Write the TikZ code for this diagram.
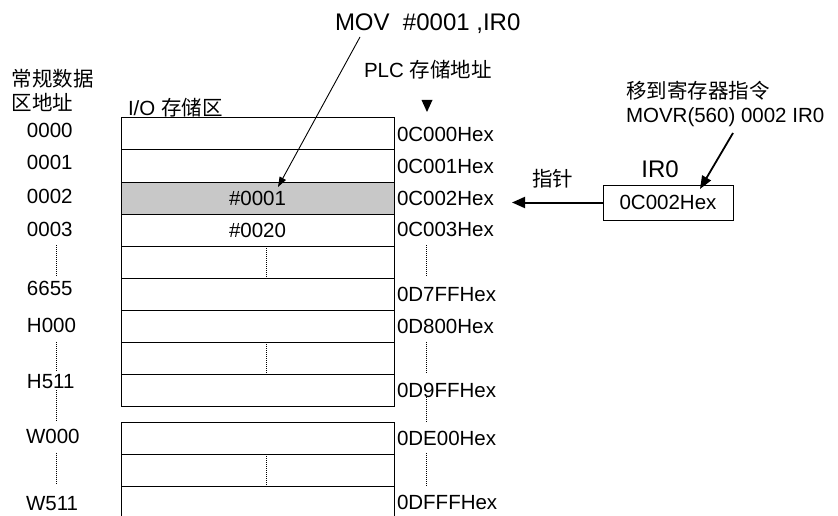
\documentclass[tikz,border=0pt]{standalone}
\usepackage{fontspec}
\setmainfont{Liberation Sans}
\newfontfamily\cjk{Noto Sans CJK SC}
\usetikzlibrary{arrows.meta}
\definecolor{cellgray}{RGB}{200,200,200}
\begin{document}
\begin{tikzpicture}[x=1pt,y=-1pt,
  txt/.style={font=\fontsize{20.5}{24}\selectfont, inner sep=0pt, outer sep=0pt},
  bigtxt/.style={font=\fontsize{24}{28}\selectfont, inner sep=0pt, outer sep=0pt},
  cell/.style={txt, draw, line width=1pt, minimum width=273pt, minimum height=32pt},
  dots/.style={line width=0.9pt, dash pattern=on 1pt off 1pt},
  lbl/.style={txt, anchor=base west},
  arr/.style={-{Triangle[length=13pt,width=11pt]}}
]
\useasboundingbox (0,0) rectangle (838,516);

% memory cells, first block
\foreach \i/\y in {0/134,1/166,4/262,5/294,6/326,7/358,8/390}
  \node[cell] (r\i) at (257.5,\y) {};
\node[cell, fill=cellgray] (r2) at (257.5,198) {\#0001};
\node[cell] (r3) at (257.5,230) {\#0020};
% second block
\foreach \i/\y in {9/438,10/470,11/502}
  \node[cell] (r\i) at (257.5,\y) {};

% dotted marks inside cells
\draw[dots] (266,246) -- (266,278);
\draw[dots] (266,342) -- (266,374);
\draw[dots] (266,454) -- (266,486);

% left addresses
\node[lbl] (l0) at (27,137.4) {0000};
\node[lbl] (l1) at (27,169.4) {0001};
\node[lbl] (l2) at (27,203.4) {0002};
\node[lbl] (l3) at (27,236.4) {0003};
\node[lbl] (l4) at (27,295.4) {6655};
\node[lbl] (l5) at (27,332.4) {H000};
\node[lbl] (l6) at (27,388.4) {H511};
\node[lbl] (l7) at (26,443.4) {W000};
\node[lbl] (l8) at (26,510.4) {W511};
\draw[dots] (56,245) -- (56,277);
\draw[dots] (56,342) -- (56,372);
\draw[dots] (56,390) -- (56,422);
\draw[dots] (56,453) -- (56,485);

% right hex addresses
\node[lbl] (h0) at (397,141.4) {0C000Hex};
\node[lbl] (h1) at (397,173.4) {0C001Hex};
\node[lbl] (h2) at (397,205.4) {0C002Hex};
\node[lbl] (h3) at (397,236.4) {0C003Hex};
\node[lbl] (h4) at (397,301.4) {0D7FFHex};
\node[lbl] (h5) at (397,333.4) {0D800Hex};
\node[lbl] (h6) at (397,397.4) {0D9FFHex};
\node[lbl] (h7) at (397,445.4) {0DE00Hex};
\node[lbl] (h8) at (397,509.4) {0DFFFHex};
\draw[dots] (426,245) -- (426,277);
\draw[dots] (426,342) -- (426,373);
\draw[dots] (426,397) -- (426,422);
\draw[dots] (426,453) -- (426,487);

% headings
\node[lbl] (c1) at (12,86.5) {\cjk 常规数据};
\node[lbl] (c2) at (12,110.5) {\cjk 区地址};
\node[lbl] (io) at (128,116) {I/O {\cjk 存储区}};
\node[lbl] (plc) at (364,78) {PLC {\cjk 存储地址}};
\fill (421.5,100) -- (432.5,100) -- (427,112) -- cycle;

% instruction at top
\node[bigtxt, anchor=base west] (mov) at (335,31) {MOV\ \ \#0001 ,IR0};
\coordinate (a1) at (360,37);
\coordinate (a2) at (278,187);
\draw[line width=0.9pt, -{Triangle[length=10pt,width=7pt]}] (a1) -- (a2);

% right side: MOVR instruction and IR0
\node[lbl] (mr1) at (626,98.5) {\cjk 移到寄存器指令};
\node[lbl] (mr2) at (626,123) {MOVR(560) 0002 IR0};
\node[bigtxt, anchor=base] (irl) at (660,178) {IR0};
\node[txt, draw, line width=1pt, minimum width=130pt, minimum height=35pt] (ir) at (668,202.5) {0C002Hex};
\coordinate (m1) at (733,133);
\coordinate (m2) at (700,189);
\draw[line width=1.8pt, -{Triangle[length=13pt,width=10pt]}] (m1) -- (m2);

% pointer
\coordinate (ptip) at (512,202.5);
\draw[line width=2pt, arr] (ir.west) -- (ptip);
\node[lbl] (ptr) at (532,186) {\cjk 指针};
\end{tikzpicture}
\end{document}
